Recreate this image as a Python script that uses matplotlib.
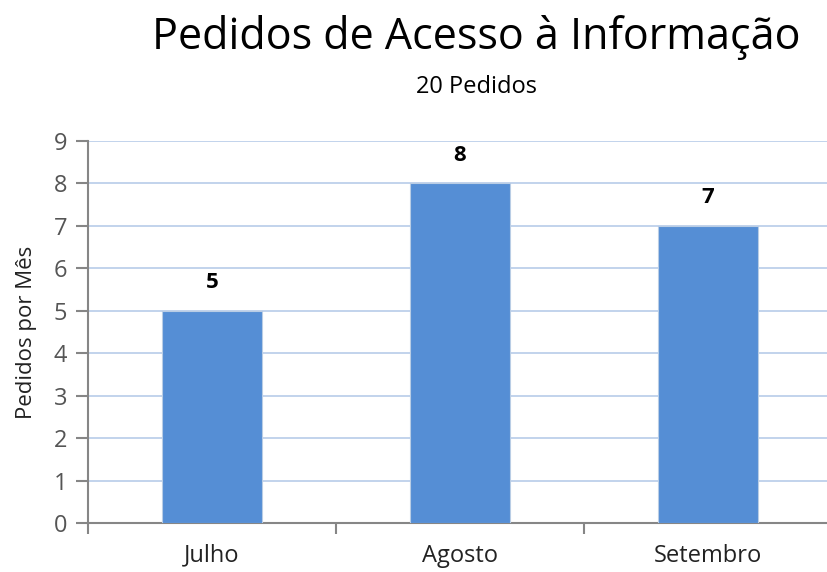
import matplotlib
matplotlib.use('Agg')
import matplotlib.pyplot as plt
import numpy as np

# dados do gráfico
meses = ['Julho', 'Agosto', 'Setembro']
pedidos = [5, 8, 7]
titulo = 'Pedidos de Acesso à Informação'
subtitulo = '20 Pedidos'
rotulo_y = 'Pedidos por Mês'

plt.rcParams['font.family'] = ['Open Sans', 'DejaVu Sans']

fig = plt.figure(figsize=(8.28, 5.72), dpi=100)
ax = fig.add_axes([88/828, 49/572, 744/828, 382/572])

x = np.arange(len(meses))
ax.bar(x, pedidos, width=0.4, color='#558ED5', edgecolor='#B9CDE5', linewidth=0.8, zorder=3)

for xi, v in zip(x, pedidos):
    ax.text(xi, v + 0.42, str(v), ha='center', va='bottom', fontsize=16, fontweight='bold', color='black')

ax.set_xlim(-0.5, 2.5)
ax.set_ylim(0, 9)
ax.set_yticks(range(0, 10))
ax.yaxis.grid(True, color='#BDD0EA', linewidth=1.3, zorder=0)
ax.set_axisbelow(True)

ax.set_xticks(x)
ax.set_xticklabels(meses, fontsize=17, color='#222222')
ax.set_xticks(np.arange(-0.5, 3, 1.0), minor=True)
ax.tick_params(axis='x', which='major', length=0, pad=15)
ax.tick_params(axis='x', which='minor', length=8, width=1.5, color='#868686')
ax.tick_params(axis='y', length=9, width=1.5, color='#868686', labelsize=17,
               labelcolor='#555555', pad=6)

for s in ['top', 'right']:
    ax.spines[s].set_visible(False)
for s in ['left', 'bottom']:
    ax.spines[s].set_color('#868686')
    ax.spines[s].set_linewidth(1.5)

ax.set_ylabel(rotulo_y, fontsize=16, color='#222222', labelpad=12)

fig.text(476/828, 1 - 38/572, titulo, ha='center', va='center', fontsize=31)
fig.text(477/828, 1 - 87/572, subtitulo, ha='center', va='center', fontsize=17)

fig.savefig('out.png', dpi=100)
